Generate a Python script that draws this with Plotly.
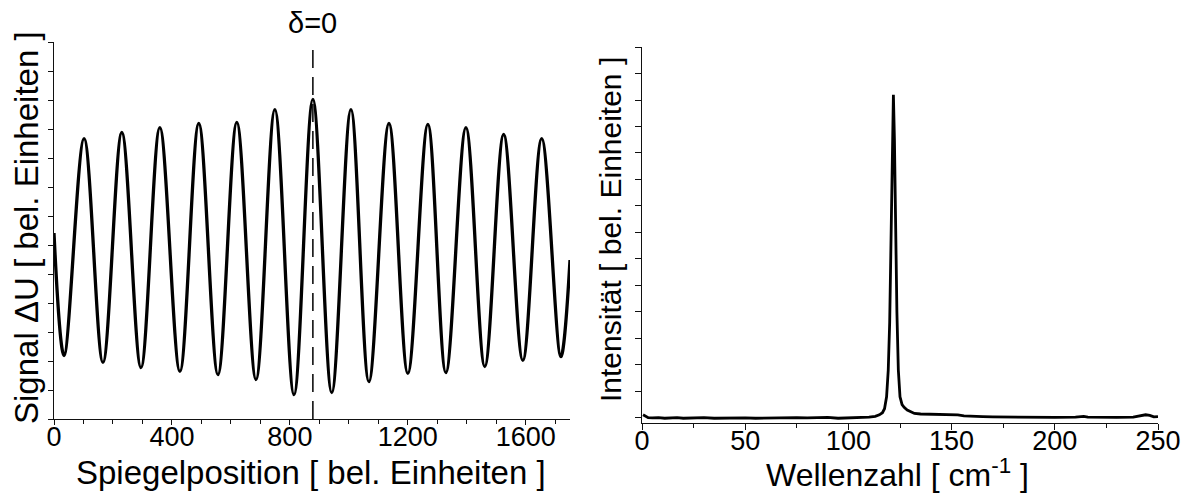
import plotly.graph_objects as go

# ---------------- data ----------------
# Left: interferogram (extrema, plus the two ends)
mirror_pos = [0, 34, 102, 166, 230, 295, 359, 427, 491, 556, 620, 685, 749, 814, 878,
              942, 1007, 1068, 1136, 1200, 1268, 1329, 1397, 1461, 1525, 1590, 1654, 1719, 1750]
signal = [6.41, 2.19, 9.67, 1.95, 9.88, 1.77, 10.05, 1.64, 10.19, 1.53, 10.23, 1.36, 10.67, 0.84, 11.02,
          0.91, 10.67, 1.29, 10.19, 1.57, 10.16, 1.60, 10.05, 1.81, 9.81, 2.02, 9.67, 2.15, 5.48]
delta_zero_pos = 878

left_xticks = [0, 400, 800, 1200, 1600]

# Right: spectrum
wavenumber = [0.5, 1.5, 3, 5, 8, 11, 14, 17, 20, 25, 30, 35, 40, 45, 50, 55, 60, 65, 70, 75, 80, 85, 90,
              95, 100, 105, 110, 113, 115, 116.5, 117.5, 118.5, 119.3, 120, 120.7, 121.3, 121.8, 122.3,
              122.9, 123.5, 124.2, 125, 126, 127, 128.5, 130, 132, 135, 140, 145, 150, 153, 156, 160,
              165, 170, 180, 190, 200, 210, 214, 216, 220, 230, 238, 241, 244, 246, 248, 250]
intensity = [0.12, 0.07, 0.01, 0.0, 0.01, -0.01, 0.0, 0.01, -0.01, 0.0, 0.01, -0.01, 0.0, 0.01, 0.0, -0.01,
             0.0, 0.01, 0.02, 0.01, 0.0, 0.01, 0.02, -0.01, 0.0, 0.01, 0.03, 0.06, 0.12, 0.2, 0.35, 0.8,
             1.8, 3.6, 6.5, 10.0, 12.2, 10.5, 7.0, 4.0, 1.8, 0.8, 0.5, 0.4, 0.3, 0.25, 0.17, 0.15, 0.14,
             0.13, 0.13, 0.12, 0.08, 0.06, 0.05, 0.04, 0.03, 0.02, 0.02, 0.03, 0.06, 0.03, 0.02, 0.02,
             0.03, 0.08, 0.12, 0.1, 0.04, 0.05]

right_xticks = [0, 50, 100, 150, 200, 250]

# ---------------- layout geometry ----------------
W, H = 1182, 493
FONT = "Arial, 'Liberation Sans', Helvetica, sans-serif"
LC = "#111111"

def px_x(p):
    return p / W

def px_y(p):
    return 1 - p / H

fig = go.Figure()

fig.add_trace(go.Scatter(x=mirror_pos, y=signal, mode="lines",
                         line=dict(color="black", width=3.3, shape="spline", smoothing=1),
                         xaxis="x", yaxis="y", showlegend=False, hoverinfo="skip"))
fig.add_trace(go.Scatter(x=[delta_zero_pos, delta_zero_pos], y=[0, 13], mode="lines",
                         line=dict(color="black", width=1.5, dash="18px,9px"),
                         xaxis="x", yaxis="y", showlegend=False, hoverinfo="skip"))
fig.add_trace(go.Scatter(x=wavenumber, y=intensity, mode="lines",
                         line=dict(color="black", width=2.8),
                         xaxis="x2", yaxis="y2", showlegend=False, hoverinfo="skip"))

common = dict(showline=True, linecolor=LC, linewidth=1, showgrid=False, zeroline=False,
              automargin=False, tickcolor=LC, tickwidth=1,
              tickfont=dict(family=FONT, size=27, color="black"))

L_dom_x = [px_x(54), px_x(570)]
L_dom_y = [px_y(419), px_y(42)]
R_dom_x = [px_x(642), px_x(1158)]
R_dom_y = [px_y(423), px_y(47)]

L_xr = [0, 1750]
L_yr = [0, 13]
R_xr = [0, 250]
R_yr = [-0.19, 14]

fig.update_layout(
    template="none",
    width=W, height=H, autosize=False,
    margin=dict(l=0, r=0, t=0, b=0, pad=0),
    paper_bgcolor="white", plot_bgcolor="white",
    font=dict(family=FONT, color="black"),
    xaxis=dict(domain=L_dom_x, range=L_xr, anchor="y", tickvals=left_xticks, ticks="outside",
               ticklen=5, ticklabelstandoff=-11,
               minor=dict(dtick=100, tick0=0, ticks="outside", ticklen=4, tickcolor=LC, showgrid=False),
               **common),
    yaxis=dict(domain=L_dom_y, range=L_yr, anchor="x", dtick=1, tick0=0, ticks="outside",
               ticklen=5, showticklabels=False, **common),
    xaxis3=dict(overlaying="x", side="top", anchor="y", range=L_xr, dtick=100, tick0=0,
                ticks="inside", ticklen=4, showticklabels=False, **common),
    yaxis3=dict(overlaying="y", side="right", anchor="x", range=L_yr, dtick=1, tick0=0,
                ticks="inside", ticklen=4, showticklabels=False, **common),
    xaxis2=dict(domain=R_dom_x, range=R_xr, anchor="y2", tickvals=right_xticks, ticks="outside",
                ticklen=6, ticklabelstandoff=-12,
                minor=dict(dtick=25, tick0=0, ticks="outside", ticklen=4, tickcolor=LC, showgrid=False),
                **common),
    yaxis2=dict(domain=R_dom_y, range=R_yr, anchor="x2", dtick=1, tick0=0, ticks="outside",
                ticklen=6, showticklabels=False, **common),
    xaxis4=dict(overlaying="x2", side="top", anchor="y2", range=R_xr, dtick=25, tick0=0,
                ticks="inside", ticklen=4, showticklabels=False, **common),
    yaxis4=dict(overlaying="y2", side="right", anchor="x2", range=R_yr, dtick=1, tick0=0,
                ticks="inside", ticklen=4, showticklabels=False, **common),
)

ann = []
ann.append(dict(text="Spiegelposition [ bel. Einheiten ]", x=px_x(311), y=px_y(472),
                xref="paper", yref="paper", xanchor="center", yanchor="middle",
                showarrow=False, font=dict(family=FONT, size=33, color="black")))
ann.append(dict(text="Signal ΔU [ bel. Einheiten ]", x=px_x(26), y=px_y(228),
                xref="paper", yref="paper", xanchor="center", yanchor="middle", textangle=-90,
                showarrow=False, font=dict(family=FONT, size=33, color="black")))
ann.append(dict(text="δ=0", x=delta_zero_pos, y=px_y(23), xref="x", yref="paper",
                xanchor="center", yanchor="middle",
                showarrow=False, font=dict(family=FONT, size=29, color="black")))
ann.append(dict(text="Wellenzahl [ cm<sup>-1</sup> ]", x=px_x(897), y=px_y(473),
                xref="paper", yref="paper", xanchor="center", yanchor="middle",
                showarrow=False, font=dict(family=FONT, size=32, color="black")))
ann.append(dict(text="Intensität [ bel. Einheiten ]", x=px_x(611), y=px_y(230),
                xref="paper", yref="paper", xanchor="center", yanchor="middle", textangle=-90,
                showarrow=False, font=dict(family=FONT, size=30, color="black")))
fig.update_layout(annotations=ann)

fig.write_html("out.html")
